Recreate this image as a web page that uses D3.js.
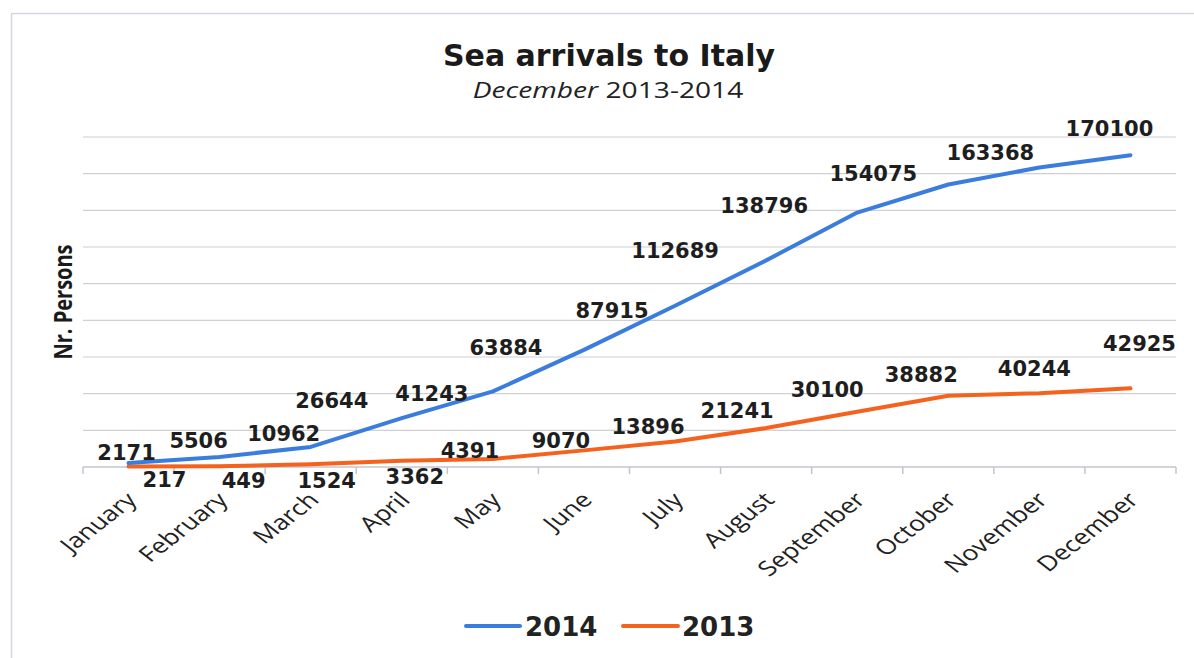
<!DOCTYPE html>
<html>
<head>
<meta charset="utf-8">
<script src="https://cdn.jsdelivr.net/npm/d3@7/dist/d3.min.js"></script>
<style>
  html, body { margin: 0; padding: 0; background: #fff; }
  svg { display: block; }
</style>
</head>
<body>
<svg id="chart" width="1194" height="658"></svg>
<script>
// ---- data ----
const months = ["January","February","March","April","May","June","July","August","September","October","November","December"];
const series2014 = [2171, 5506, 10962, 26644, 41243, 63884, 87915, 112689, 138796, 154075, 163368, 170100];
const series2013 = [217, 449, 1524, 3362, 4391, 9070, 13896, 21241, 30100, 38882, 40244, 42925];
const seriesNames = ["2014", "2013"];

// ---- label placement (style: pixel offsets of each data label from its point) ----
const off2014 = [[-2,-11],[-21,-16],[-27,-13],[-70,-18],[-61,2],[-78,-2],[-63,5],[-91,-10],[-93,-7],[-75,-11],[-49,-15],[-21,-27]];
const off2013 = [[36,13],[24,14],[16,16],[13,16],[-23,-9],[-23,-10],[-27,-15],[-29,-18],[-30,-22],[-27,-21],[-5,-25],[9,-45]];

const colors = {"2014": "#3b7ddd", "2013": "#f5621e"};
const svg = d3.select("#chart");

// frame
svg.append("rect").attr("x", 11.5).attr("y", 13.5).attr("width", 1200).attr("height", 700)
  .attr("fill", "none").attr("stroke", "#d6d6de").attr("stroke-width", 1.5);

const x = d3.scaleBand().domain(months).range([83, 1176]);
const y = d3.scaleLinear().domain([0, 180000]).range([467, 137]);
const cx = m => x(m) + x.bandwidth() / 2;

// gridlines
svg.append("g").selectAll("line").data(y.ticks(9).filter(d => d > 0)).join("line")
  .attr("x1", 83).attr("x2", 1176)
  .attr("y1", d => y(d)).attr("y2", d => y(d))
  .attr("stroke", "#cfcfd6").attr("stroke-width", 1.2);

// x axis line + ticks at category boundaries
const bounds = months.map(m => x(m)).concat([x(months[months.length - 1]) + x.bandwidth()]);
svg.append("line").attr("x1", 83).attr("x2", 1176).attr("y1", y(0)).attr("y2", y(0))
  .attr("stroke", "#c4c4cc").attr("stroke-width", 1.5);
svg.append("g").selectAll("line").data(bounds).join("line")
  .attr("x1", d => d).attr("x2", d => d).attr("y1", y(0)).attr("y2", y(0) + 7)
  .attr("stroke", "#c4c4cc").attr("stroke-width", 1.5);

// month labels
svg.append("g").selectAll("text").data(months).join("text")
  .attr("transform", m => `translate(${cx(m) + 3},${496}) scale(1.28,1) rotate(-45)`)
  .attr("text-anchor", "end").attr("dy", "0.35em")
  .attr("font-family", "Open Sans, sans-serif").attr("font-size", 21).attr("fill", "#222")
  .text(m => m);

// lines
const line = d3.line().x((d, i) => cx(months[i])).y(d => y(d));
[[series2013, "2013"], [series2014, "2014"]].forEach(([vals, name]) => {
  svg.append("path").datum(vals).attr("d", line)
    .attr("fill", "none").attr("stroke", colors[name]).attr("stroke-width", 4)
    .attr("stroke-linejoin", "round").attr("stroke-linecap", "round");
});

// data labels
function labels(vals, offs) {
  svg.append("g").selectAll("text").data(vals).join("text")
    .attr("x", (d, i) => cx(months[i]) + offs[i][0])
    .attr("y", (d, i) => y(d) + offs[i][1])
    .attr("dy", "0.36em").attr("text-anchor", "middle")
    .attr("font-family", "DejaVu Sans, sans-serif").attr("font-weight", "bold")
    .attr("font-size", 21).attr("fill", "#1e1e1e")
    .text(d => d);
}
labels(series2014, off2014);
labels(series2013, off2013);

// title
svg.append("text").attr("x", 609).attr("y", 66).attr("text-anchor", "middle")
  .attr("font-family", "DejaVu Sans, sans-serif").attr("font-weight", "bold")
  .attr("font-size", 30).attr("fill", "#1a1a1a").text("Sea arrivals to Italy");
const sub = svg.append("text").attr("transform", "translate(608,98) scale(1.28,1)")
  .attr("text-anchor", "middle").attr("font-family", "Open Sans, sans-serif")
  .attr("font-size", 22).attr("fill", "#222");
sub.append("tspan").attr("font-style", "italic").text("December");
sub.append("tspan").text(" 2013-2014");

// y axis title
svg.append("text").attr("transform", "translate(63,302) scale(1.28,1) rotate(-90)")
  .attr("text-anchor", "middle").attr("dy", "0.35em")
  .attr("font-family", "Open Sans, sans-serif").attr("font-weight", "bold")
  .attr("font-size", 20).attr("fill", "#1a1a1a").text("Nr. Persons");

// legend
const legend = [{name: seriesNames[0], x0: 466, x1: 520, tx: 525}, {name: seriesNames[1], x0: 623, x1: 678, tx: 682}];
legend.forEach(l => {
  svg.append("line").attr("x1", l.x0).attr("x2", l.x1).attr("y1", 626).attr("y2", 626)
    .attr("stroke", colors[l.name]).attr("stroke-width", 4).attr("stroke-linecap", "round");
  svg.append("text").attr("x", l.tx).attr("y", 627).attr("dy", "0.36em")
    .attr("font-family", "DejaVu Sans, sans-serif").attr("font-weight", "bold")
    .attr("font-size", 26).attr("fill", "#222").text(l.name);
});
</script>
</body>
</html>
